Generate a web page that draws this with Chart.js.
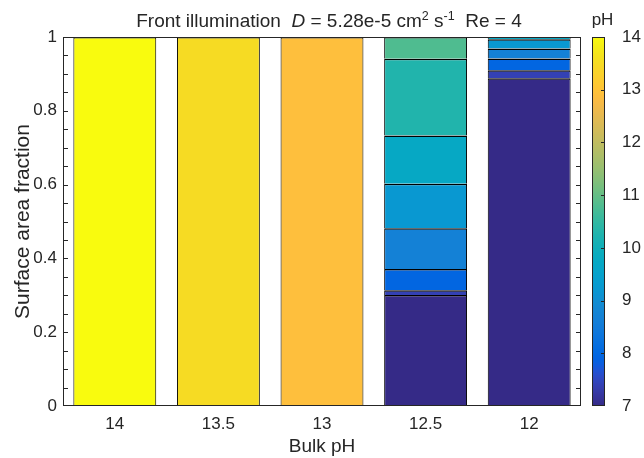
<!DOCTYPE html>
<html>
<head>
<meta charset="utf-8">
<script src="https://cdn.jsdelivr.net/npm/chart.js@4.4.1/dist/chart.umd.min.js"></script>
<style>
  html, body { margin: 0; padding: 0; background: #ffffff; }
  #wrap { width: 644px; height: 458px; }
</style>
</head>
<body>
<div id="wrap"><canvas id="chart" width="644" height="458"></canvas></div>
<script>
// Bulk pH categories along the x axis
const bulkPH = ['14', '13.5', '13', '12.5', '12'];

// Surface area fraction of each surface-pH band, bottom to top
const frac14  = [1.0];
const frac135 = [1.0];
const frac13  = [1.0];
const frac125 = [0.301, 0.013, 0.057, 0.111, 0.120, 0.131, 0.208, 0.059];
const frac12  = [0.888, 0.022, 0.032, 0.027, 0.025, 0.006];

// Surface pH of each band (sets its colour on the colour bar)
const ph14  = [14.0];
const ph135 = [13.5];
const ph13  = [12.9];
const ph125 = [7.0, 7.4, 7.95, 8.67, 9.22, 9.72, 10.28, 10.8];
const ph12  = [7.0, 7.4, 7.95, 8.67, 9.22, 9.72];

// Axis ticks
const yTicks = [0, 0.2, 0.4, 0.6, 0.8, 1];
const cbTicks = [7, 8, 9, 10, 11, 12, 13, 14];
const pHMin = 7, pHMax = 14;

// parula colour map, 64 entries
const PARULA = [
[0.2081,0.1663,0.5292],[0.2116,0.1898,0.5777],[0.2123,0.2138,0.6270],[0.2081,0.2386,0.6771],
[0.1959,0.2645,0.7279],[0.1707,0.2919,0.7792],[0.1253,0.3242,0.8303],[0.0591,0.3598,0.8683],
[0.0117,0.3875,0.8820],[0.0060,0.4086,0.8828],[0.0165,0.4266,0.8786],[0.0329,0.4430,0.8720],
[0.0498,0.4586,0.8641],[0.0629,0.4737,0.8554],[0.0723,0.4887,0.8467],[0.0779,0.5040,0.8384],
[0.0793,0.5200,0.8312],[0.0749,0.5375,0.8263],[0.0641,0.5570,0.8240],[0.0488,0.5772,0.8228],
[0.0343,0.5966,0.8199],[0.0265,0.6137,0.8135],[0.0239,0.6287,0.8038],[0.0231,0.6418,0.7913],
[0.0228,0.6535,0.7768],[0.0267,0.6642,0.7607],[0.0384,0.6743,0.7436],[0.0590,0.6838,0.7254],
[0.0843,0.6928,0.7062],[0.1133,0.7015,0.6859],[0.1453,0.7098,0.6646],[0.1801,0.7177,0.6424],
[0.2178,0.7250,0.6193],[0.2586,0.7317,0.5954],[0.3022,0.7376,0.5712],[0.3482,0.7424,0.5473],
[0.3953,0.7459,0.5244],[0.4420,0.7481,0.5033],[0.4871,0.7491,0.4840],[0.5300,0.7491,0.4661],
[0.5709,0.7485,0.4494],[0.6099,0.7473,0.4337],[0.6473,0.7456,0.4188],[0.6834,0.7435,0.4044],
[0.7184,0.7411,0.3905],[0.7525,0.7384,0.3768],[0.7858,0.7356,0.3633],[0.8185,0.7327,0.3498],
[0.8507,0.7299,0.3360],[0.8824,0.7274,0.3217],[0.9139,0.7258,0.3063],[0.9450,0.7261,0.2886],
[0.9739,0.7314,0.2666],[0.9938,0.7455,0.2403],[0.9990,0.7653,0.2164],[0.9955,0.7861,0.1967],
[0.9880,0.8066,0.1794],[0.9789,0.8271,0.1633],[0.9697,0.8481,0.1475],[0.9626,0.8705,0.1309],
[0.9589,0.8949,0.1132],[0.9598,0.9218,0.0948],[0.9661,0.9514,0.0755],[0.9763,0.9831,0.0538]
];

function parula(ph) {
  let t = (ph - pHMin) / (pHMax - pHMin);
  t = Math.max(0, Math.min(1, t));
  const f = t * (PARULA.length - 1);
  const i = Math.floor(f);
  const j = Math.min(PARULA.length - 1, i + 1);
  const w = f - i;
  const c = PARULA[i].map((v, k) => Math.round((v + (PARULA[j][k] - v) * w) * 255));
  return 'rgb(' + c.join(',') + ')';
}

const bandFractions = [frac14, frac135, frac13, frac125, frac12];
const bandPH = [ph14, ph135, ph13, ph125, ph12];
const nBands = Math.max(...bandFractions.map(a => a.length));

const datasets = [];
for (let k = 0; k < nBands; k++) {
  datasets.push({
    label: 'band ' + (k + 1),
    data: bandFractions.map(a => (k < a.length ? a[k] : null)),
    backgroundColor: bandPH.map(a => (k < a.length ? parula(a[k]) : 'rgba(0,0,0,0)')),
    borderColor: '#000000',
    borderWidth: { top: 1.5, left: 1, right: 1, bottom: 0 },
    borderSkipped: false,
    barPercentage: 0.8,
    categoryPercentage: 1.0,
    stack: 'area'
  });
}

const INK = '#262626';
const FONT = '"Liberation Sans", Arial, Helvetica, sans-serif';

// Box, inward ticks, colour bar and the mixed-style title
const decorations = {
  id: 'decorations',
  afterDatasetsDraw(chart) {
    const ctx = chart.ctx;
    const area = chart.chartArea;
    const y = chart.scales.y;
    ctx.save();
    ctx.strokeStyle = INK;
    ctx.lineWidth = 1;
    // tick marks every 0.05 on both vertical sides, pointing inward
    ctx.beginPath();
    for (let i = 1; i < 20; i++) {
      const py = Math.round(y.getPixelForValue(i * 0.05)) + 0.5;
      ctx.moveTo(area.left, py); ctx.lineTo(area.left + 5, py);
      ctx.moveTo(area.right, py); ctx.lineTo(area.right - 5, py);
    }
    ctx.stroke();
    // axes box
    ctx.strokeRect(Math.round(area.left) + 0.5, Math.round(area.top) + 0.5,
                   Math.round(area.right - area.left) - 1, Math.round(area.bottom - area.top) - 1);
    ctx.restore();
  },
  afterDraw(chart) {
    const ctx = chart.ctx;
    const area = chart.chartArea;
    const cb = chart.scales.cb;
    ctx.save();
    // colour bar
    const x0 = Math.round(area.right) + 11;
    const w = 13;
    const top = Math.round(cb.getPixelForValue(pHMax));
    const bottom = Math.round(cb.getPixelForValue(pHMin));
    for (let py = top; py < bottom; py++) {
      ctx.fillStyle = parula(cb.getValueForPixel(py + 0.5));
      ctx.fillRect(x0, py, w, 1);
    }
    ctx.strokeStyle = INK;
    ctx.lineWidth = 1;
    ctx.strokeRect(x0 + 0.5, top + 0.5, w - 1, bottom - top - 1);
    ctx.beginPath();
    cbTicks.forEach(v => {
      if (v === pHMin || v === pHMax) return;
      const py = Math.round(cb.getPixelForValue(v)) + 0.5;
      ctx.moveTo(x0 + w - 1, py); ctx.lineTo(x0 + w - 4, py);
    });
    ctx.stroke();
    // colour bar label
    ctx.fillStyle = INK;
    ctx.font = '17px ' + FONT;
    ctx.textAlign = 'center';
    ctx.textBaseline = 'alphabetic';
    ctx.fillText('pH', x0 + w / 2 + 4, 25);

    // title with italic symbol and superscripts
    const base = '19px ' + FONT;
    const ital = 'italic 19px ' + FONT;
    const sup = '12.5px ' + FONT;
    const parts = [
      { t: 'Front illumination  ', f: base, dy: 0 },
      { t: 'D', f: ital, dy: 0 },
      { t: ' = 5.28e-5 cm', f: base, dy: 0 },
      { t: '2', f: sup, dy: -7 },
      { t: ' s', f: base, dy: 0 },
      { t: '-1', f: sup, dy: -7 },
      { t: '  Re = 4', f: base, dy: 0 }
    ];
    let total = 0;
    parts.forEach(p => { ctx.font = p.f; p.w = ctx.measureText(p.t).width; total += p.w; });
    let x = (area.left + area.right) / 2 + 7 - total / 2;
    ctx.textAlign = 'left';
    parts.forEach(p => {
      ctx.font = p.f;
      ctx.fillText(p.t, x, 27 + p.dy);
      x += p.w;
    });
    ctx.restore();
  }
};

new Chart(document.getElementById('chart'), {
  type: 'bar',
  data: { labels: bulkPH, datasets: datasets },
  options: {
    responsive: false,
    devicePixelRatio: 1,
    animation: false,
    layout: { padding: { top: 37, right: 0, bottom: 0, left: 0 } },
    plugins: {
      legend: { display: false },
      title: { display: false },
      tooltip: { enabled: false }
    },
    scales: {
      x: {
        stacked: true,
        offset: true,
        grid: { display: false, drawTicks: false },
        border: { display: false },
        ticks: { color: INK, font: { family: FONT, size: 17 }, padding: 8, autoSkip: false, maxRotation: 0 },
        title: { display: true, text: 'Bulk pH', color: INK, font: { family: FONT, size: 19 }, padding: { top: 0, bottom: 0 } },
        afterFit(scale) { scale.height = 52; }
      },
      y: {
        stacked: true,
        min: 0,
        max: 1,
        grid: { display: false, drawTicks: false },
        border: { display: false },
        ticks: {
          color: INK, font: { family: FONT, size: 17 }, padding: 6, autoSkip: false,
          callback: v => String(+(+v).toFixed(2))
        },
        afterBuildTicks(scale) { scale.ticks = yTicks.map(v => ({ value: v })); },
        title: { display: true, text: 'Surface area fraction', color: INK, font: { family: FONT, size: 21 }, padding: { top: 11, bottom: 0 } },
        afterFit(scale) { scale.width = 63; scale.paddingTop = 0; scale.paddingBottom = 0; }
      },
      cb: {
        type: 'linear',
        position: 'right',
        min: pHMin,
        max: pHMax,
        grid: { display: false, drawTicks: false },
        border: { display: false },
        ticks: { color: INK, font: { family: FONT, size: 17 }, padding: 41, autoSkip: false },
        afterBuildTicks(scale) { scale.ticks = cbTicks.map(v => ({ value: v })); },
        afterFit(scale) { scale.width = 63; scale.paddingTop = 0; scale.paddingBottom = 0; }
      }
    }
  },
  plugins: [decorations]
});
</script>
</body>
</html>
